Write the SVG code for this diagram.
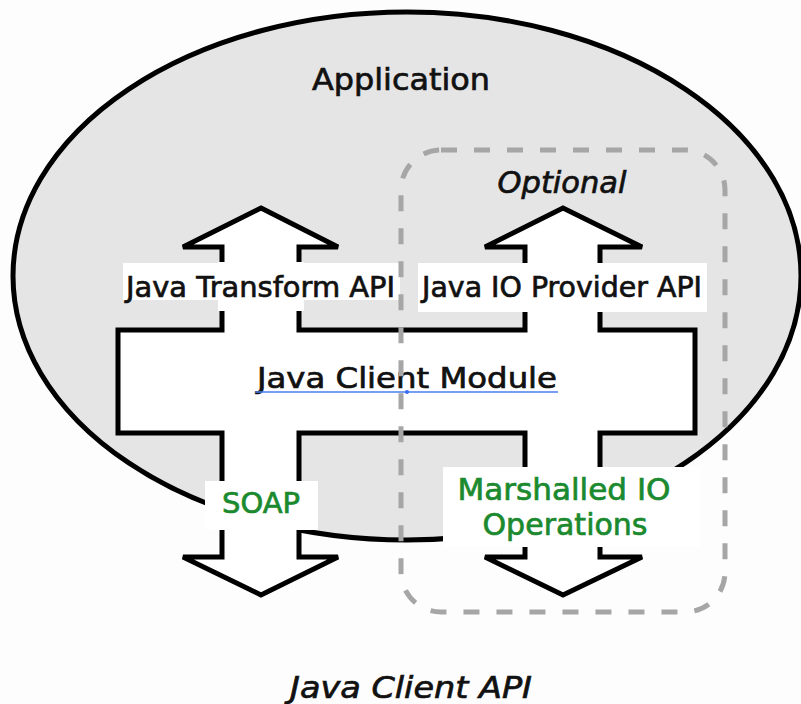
<svg xmlns="http://www.w3.org/2000/svg" width="801" height="704" viewBox="0 0 801 704">
  <style>
    .lbl { font-family: "DejaVu Sans", Verdana, sans-serif; fill: #111; stroke: #111; stroke-width: 0.7; }
    .green { fill: #1b8a2f; stroke: #1b8a2f; }
    .box { fill: #ffffff; stroke: none; }
    .outline { fill: #ffffff; stroke: #000; stroke-width: 5; stroke-linejoin: miter; }
  </style>
  <rect x="0" y="0" width="801" height="704" fill="#fdfdfd"/>

  <g id="application">
    <ellipse cx="407" cy="276" rx="394" ry="264" fill="#e5e5e5" stroke="#000" stroke-width="5"/>
    <text class="lbl" x="401" y="90" font-size="30" text-anchor="middle" textLength="178" lengthAdjust="spacingAndGlyphs">Application</text>
  </g>

  <g id="connectors">
    <path class="outline" d="M261,208 L338,247 L299,247 L299,330 L525,330 L525,247 L485,247 L563,208 L642,247 L600,247 L600,330 L695,330 L695,433 L600,433 L600,557 L642,557 L563,595 L485,557 L525,557 L525,433 L299,433 L299,557 L338,557 L261,595 L183,557 L222,557 L222,433 L118,433 L118,330 L222,330 L222,247 L183,247 Z"/>
  </g>

  <g id="java-client-module">
    <text class="lbl" x="257" y="388" font-size="29" textLength="300" lengthAdjust="spacingAndGlyphs">Java Client Module</text>
    <line x1="255" y1="392" x2="558" y2="392" stroke="#4a7cf0" stroke-width="1.5"/>
    <circle cx="407" cy="392" r="2" fill="#3a6cf0"/>
  </g>

  <g id="java-transform-api">
    <rect class="box" x="123" y="263" width="277" height="37"/>
    <rect class="box" x="218" y="262" width="86" height="49"/>
    <text class="lbl" x="126" y="297" font-size="28" textLength="269" lengthAdjust="spacingAndGlyphs">Java Transform API</text>
  </g>

  <g id="java-io-provider-api">
    <rect class="box" x="418" y="263" width="289" height="49"/>
    <text class="lbl" x="422" y="297" font-size="28" textLength="280" lengthAdjust="spacingAndGlyphs">Java IO Provider API</text>
  </g>

  <g id="soap">
    <rect class="box" x="205" y="481" width="113" height="49"/>
    <text class="lbl green" x="261" y="513" font-size="29" text-anchor="middle" textLength="78" lengthAdjust="spacingAndGlyphs">SOAP</text>
  </g>

  <g id="marshalled-io">
    <rect class="box" x="443" y="467" width="257" height="80"/>
    <text class="lbl green" x="564" y="500" font-size="30" text-anchor="middle" textLength="213" lengthAdjust="spacingAndGlyphs">Marshalled IO</text>
    <text class="lbl green" x="565" y="535" font-size="30" text-anchor="middle" textLength="165" lengthAdjust="spacingAndGlyphs">Operations</text>
  </g>

  <g id="optional">
    <rect x="401" y="150" width="324" height="462" rx="40" ry="40" fill="none" stroke="#a6a6a6" stroke-width="5" stroke-dasharray="16 17"/>
    <text class="lbl" x="562" y="193" font-size="30" font-style="italic" text-anchor="middle" textLength="129" lengthAdjust="spacingAndGlyphs">Optional</text>
  </g>

  <g id="title">
    <text class="lbl" x="411" y="698" font-size="30" font-style="italic" text-anchor="middle" textLength="242" lengthAdjust="spacingAndGlyphs">Java Client API</text>
  </g>
</svg>
